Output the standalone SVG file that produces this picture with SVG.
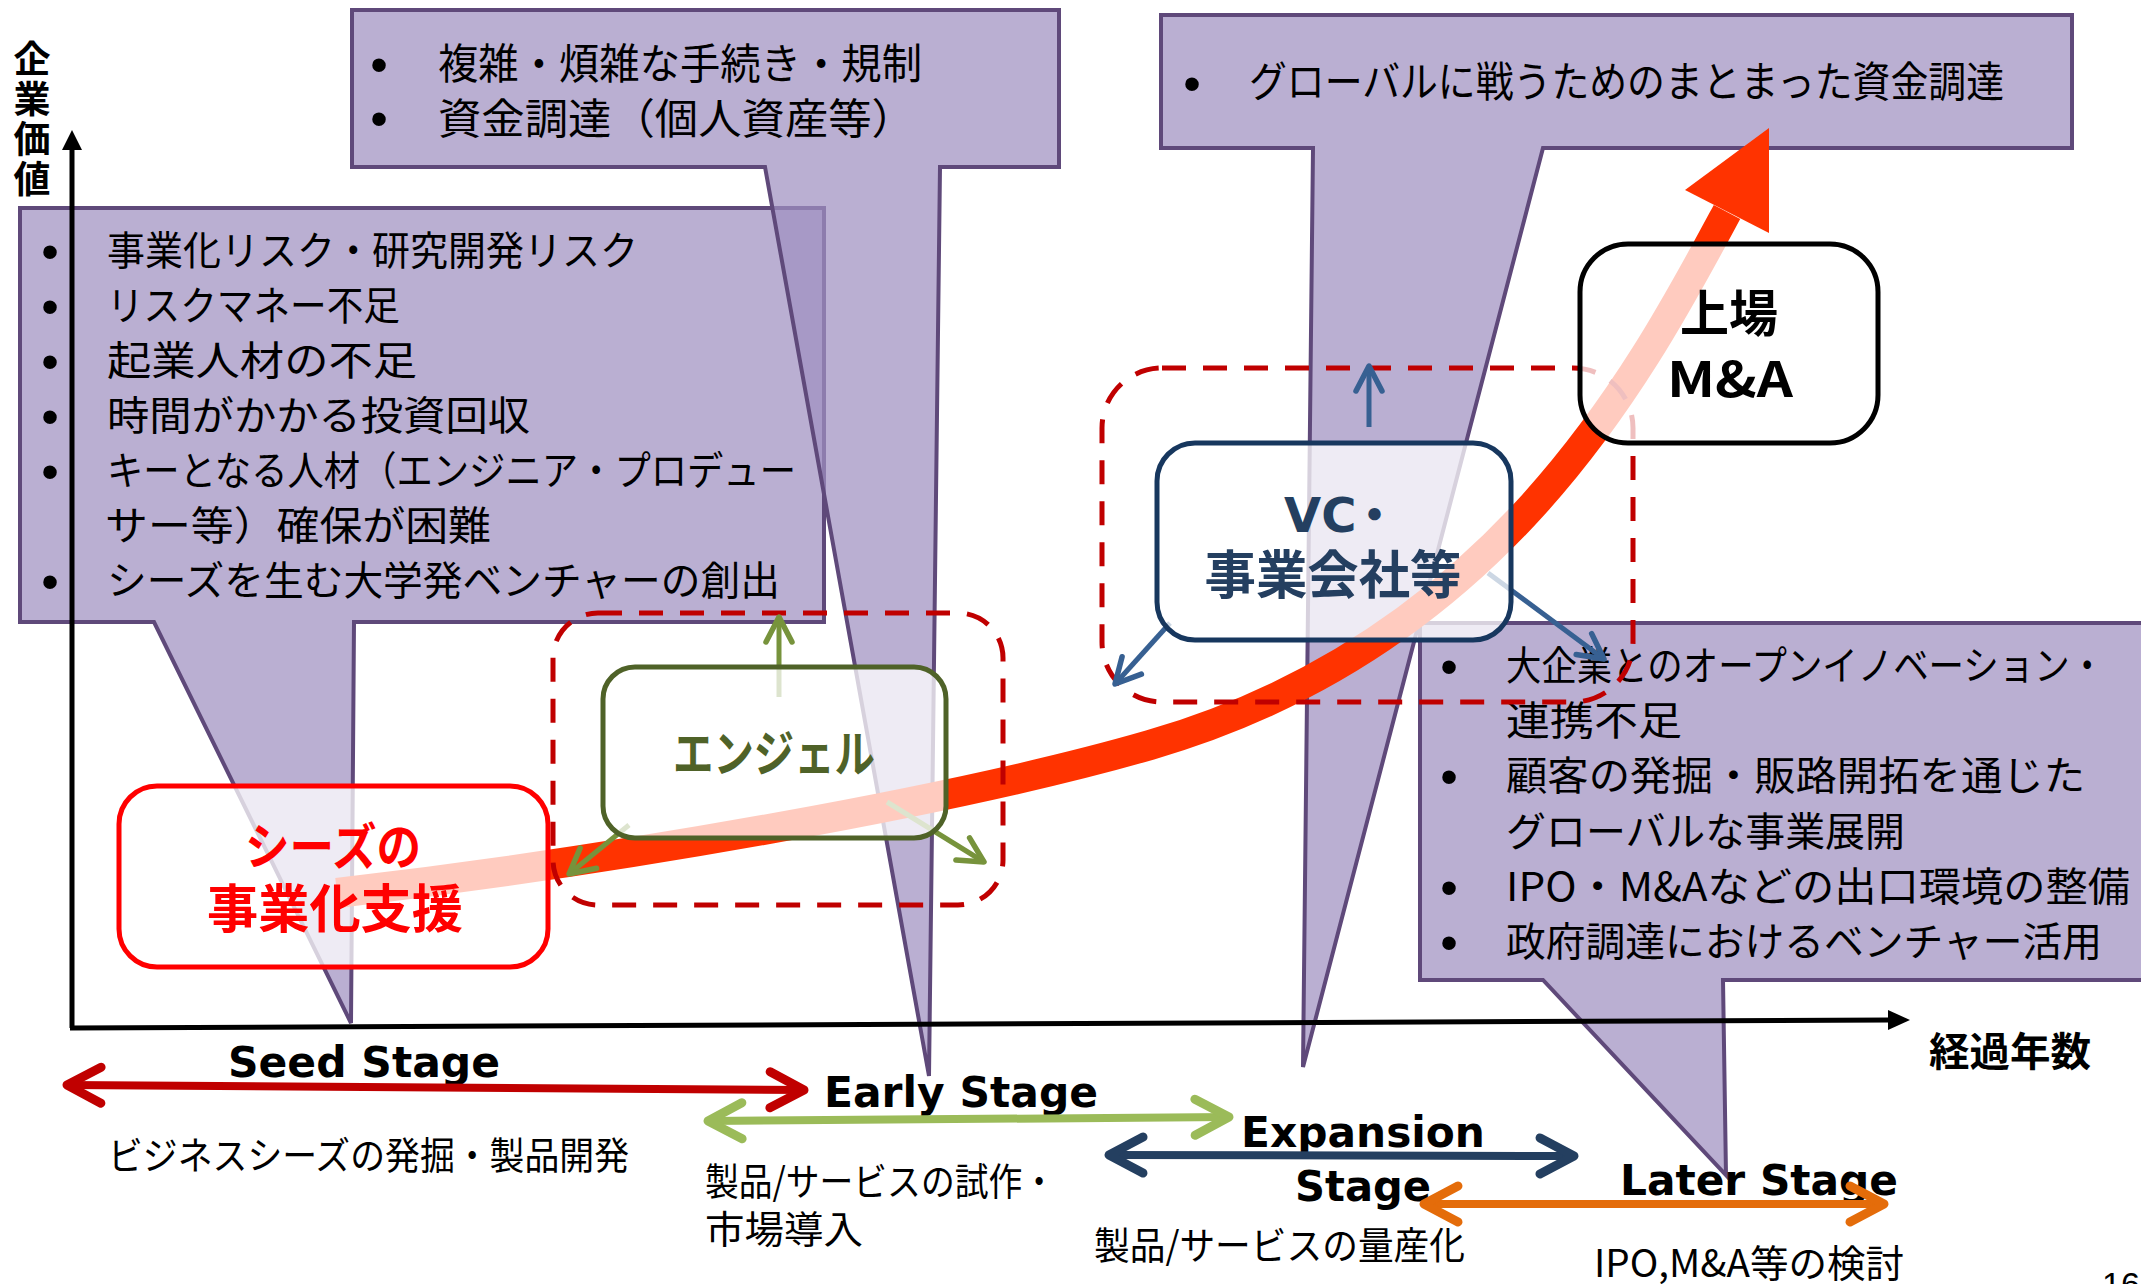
<svg xmlns="http://www.w3.org/2000/svg" width="2141" height="1284" viewBox="0 0 2141 1284">
<style>
.callout{fill:#a090c0;fill-opacity:0.72;stroke:#5f497a;stroke-width:4;stroke-linejoin:miter}
.ct{font-family:"Noto Sans CJK JP","Noto Sans CJK SC",sans-serif;font-size:40px;fill:#000}
.ct42{font-size:42px}
.bul{font-family:"Liberation Sans",Arial,sans-serif;font-size:50px;text-anchor:middle;fill:#000}
.box{fill:#fff;fill-opacity:0.75;stroke-width:5}
.bt{font-family:"Noto Sans CJK JP","Noto Sans CJK SC",sans-serif;font-weight:700;text-anchor:middle}
.stage{font-family:"DejaVu Sans",Verdana,sans-serif;font-weight:700;font-size:42px;fill:#000}
.desc{font-family:"Noto Sans CJK JP","Noto Sans CJK SC",sans-serif;font-size:38px;fill:#000}
.dash{fill:none;stroke:#c00000;stroke-width:5;stroke-dasharray:24 17}
.axis{stroke:#000;stroke-width:5;fill:none}
.sa{fill:none;stroke-width:8}
.ga{fill:none;stroke:#77933c;stroke-width:5}
.ba{fill:none;stroke:#376092;stroke-width:5}
</style>
<defs>
<marker id="chR" viewBox="-45 -30 55 60" markerWidth="55" markerHeight="60" refX="0" refY="0" orient="auto-start-reverse" markerUnits="userSpaceOnUse"><path d="M-34,-18 L0,0 L-34,18" fill="none" stroke="#c00000" stroke-width="9" stroke-linecap="round" stroke-linejoin="round"/></marker>
<marker id="chG" viewBox="-45 -30 55 60" markerWidth="55" markerHeight="60" refX="0" refY="0" orient="auto-start-reverse" markerUnits="userSpaceOnUse"><path d="M-34,-18 L0,0 L-34,18" fill="none" stroke="#9bbb59" stroke-width="9" stroke-linecap="round" stroke-linejoin="round"/></marker>
<marker id="chN" viewBox="-45 -30 55 60" markerWidth="55" markerHeight="60" refX="0" refY="0" orient="auto-start-reverse" markerUnits="userSpaceOnUse"><path d="M-34,-18 L0,0 L-34,18" fill="none" stroke="#243f60" stroke-width="9" stroke-linecap="round" stroke-linejoin="round"/></marker>
<marker id="chO" viewBox="-45 -30 55 60" markerWidth="55" markerHeight="60" refX="0" refY="0" orient="auto-start-reverse" markerUnits="userSpaceOnUse"><path d="M-34,-18 L0,0 L-34,18" fill="none" stroke="#e46c0a" stroke-width="9" stroke-linecap="round" stroke-linejoin="round"/></marker>
<marker id="smG" viewBox="-35 -20 40 40" markerWidth="40" markerHeight="40" refX="0" refY="0" orient="auto" markerUnits="userSpaceOnUse"><path d="M-25,-13 L0,0 L-25,13" fill="none" stroke="#77933c" stroke-width="5.5" stroke-linecap="round" stroke-linejoin="round"/></marker>
<marker id="smB" viewBox="-35 -20 40 40" markerWidth="40" markerHeight="40" refX="0" refY="0" orient="auto" markerUnits="userSpaceOnUse"><path d="M-25,-13 L0,0 L-25,13" fill="none" stroke="#376092" stroke-width="5.5" stroke-linecap="round" stroke-linejoin="round"/></marker>
</defs>
<rect width="2141" height="1284" fill="#fff"/>

<g id="callout-seed-issues">
<path class="callout" d="M20,208 L824,208 L824,622 L354,622 L351,1023 L154,622 L20,622 Z"/>
<text class="bul" x="50" y="269">•</text>
<text class="ct" x="107" y="265" textLength="531" lengthAdjust="spacingAndGlyphs">事業化リスク・研究開発リスク</text>
<text class="bul" x="50" y="324">•</text>
<text class="ct" x="107" y="320" textLength="293" lengthAdjust="spacingAndGlyphs">リスクマネー不足</text>
<text class="bul" x="50" y="379">•</text>
<text class="ct" x="107" y="375" textLength="310" lengthAdjust="spacingAndGlyphs">起業人材の不足</text>
<text class="bul" x="50" y="434">•</text>
<text class="ct" x="107" y="430" textLength="423" lengthAdjust="spacingAndGlyphs">時間がかかる投資回収</text>
<text class="bul" x="50" y="489">•</text>
<text class="ct" x="107" y="485" textLength="689" lengthAdjust="spacingAndGlyphs">キーとなる人材（エンジニア・プロデュー</text>
<text class="ct" x="105" y="540" textLength="386" lengthAdjust="spacingAndGlyphs">サー等）確保が困難</text>
<text class="bul" x="50" y="599">•</text>
<text class="ct" x="107" y="595" textLength="673" lengthAdjust="spacingAndGlyphs">シーズを生む大学発ベンチャーの創出</text>
</g>

<g id="callout-early-issues">
<path class="callout" d="M352,10 L1059,10 L1059,167 L940,167 L929,1076 L765,167 L352,167 Z"/>
<text class="bul" x="379" y="82">•</text>
<text class="ct ct42" x="438" y="79" textLength="484" lengthAdjust="spacingAndGlyphs">複雑・煩雑な手続き・規制</text>
<text class="bul" x="379" y="136">•</text>
<text class="ct ct42" x="438" y="134" textLength="477" lengthAdjust="spacingAndGlyphs">資金調達（個人資産等）</text>
</g>

<g id="callout-expansion-issues">
<path class="callout" d="M1161,15 L2072,15 L2072,148 L1543,148 L1303,1067 L1313,148 L1161,148 Z"/>
<text class="bul" x="1192" y="101">•</text>
<text class="ct ct42" x="1249" y="97" textLength="755" lengthAdjust="spacingAndGlyphs">グローバルに戦うためのまとまった資金調達</text>
</g>

<g id="callout-later-issues">
<path class="callout" d="M1420,623 L2160,623 L2160,980 L1723,980 L1726,1175 L1543,980 L1420,980 Z"/>
<text class="bul" x="1449" y="684">•</text>
<text class="ct" x="1506" y="680" textLength="599" lengthAdjust="spacingAndGlyphs">大企業とのオープンイノベーション・</text>
<text class="ct" x="1506" y="735" textLength="176" lengthAdjust="spacingAndGlyphs">連携不足</text>
<text class="bul" x="1449" y="794">•</text>
<text class="ct" x="1506" y="790" textLength="579" lengthAdjust="spacingAndGlyphs">顧客の発掘・販路開拓を通じた</text>
<text class="ct" x="1506" y="846" textLength="399" lengthAdjust="spacingAndGlyphs">グローバルな事業展開</text>
<text class="bul" x="1449" y="905">•</text>
<text class="ct" x="1506" y="901" textLength="624" lengthAdjust="spacingAndGlyphs">IPO・M&amp;Aなどの出口環境の整備</text>
<text class="bul" x="1449" y="960">•</text>
<text class="ct" x="1506" y="956" textLength="596" lengthAdjust="spacingAndGlyphs">政府調達におけるベンチャー活用</text>
</g>

<g id="axes">
<line class="axis" x1="72" y1="1028" x2="72" y2="146"/>
<polygon points="72,130 62,150 82,150" fill="#000"/>
<line class="axis" x1="70" y1="1028" x2="1890" y2="1020"/>
<polygon points="1910,1020 1888,1010 1888,1030" fill="#000"/>
<text x="32" y="40" writing-mode="vertical-rl" font-family="Noto Sans CJK JP, Noto Sans CJK SC, sans-serif" font-weight="700" font-size="37" letter-spacing="3" fill="#000">企業価値</text>
<text class="bt" x="2010" y="1066" font-size="40" textLength="162" lengthAdjust="spacingAndGlyphs">経過年数</text>
</g>

<g id="growth-curve">
<path d="M337,893 C620,860 960,800 1150,745 C1500,643.5 1642,370 1727,212" fill="none" stroke="#ff3300" stroke-width="30"/>
<polygon points="1769,128 1685,190 1769,233" fill="#ff3300"/>
</g>

<g id="groups">
<rect id="angel-group" class="dash" x="553" y="613" width="450" height="292" rx="45"/>
<rect id="vc-group" class="dash" x="1102" y="368" width="531" height="334" rx="60"/>
</g>

<g id="connectors">
<line class="ga" x1="779" y1="697" x2="779" y2="617" marker-end="url(#smG)"/>
<line class="ga" x1="629" y1="825" x2="569" y2="874" marker-end="url(#smG)"/>
<line class="ga" x1="887" y1="802" x2="984" y2="862" marker-end="url(#smG)"/>
<line class="ba" x1="1369" y1="427" x2="1369" y2="366" marker-end="url(#smB)"/>
<line class="ba" x1="1170" y1="623" x2="1115" y2="684" marker-end="url(#smB)"/>
<line class="ba" x1="1488" y1="573" x2="1604" y2="659" marker-end="url(#smB)"/>
</g>

<g id="node-seeds">
<rect class="box" x="119" y="786" width="429" height="181" rx="38" stroke="#ff0000"/>
<text class="bt" x="333" y="865" font-size="50" fill="#ff0000" textLength="176" lengthAdjust="spacingAndGlyphs">シーズの</text>
<text class="bt" x="335" y="928" font-size="52" fill="#ff0000" textLength="256" lengthAdjust="spacingAndGlyphs">事業化支援</text>
</g>

<g id="node-angel">
<rect class="box" x="603" y="667" width="343" height="171" rx="32" stroke="#4f6228"/>
<text class="bt" x="774" y="772" font-size="50" fill="#4f6228" textLength="202" lengthAdjust="spacingAndGlyphs">エンジェル</text>
</g>

<g id="node-vc">
<rect class="box" x="1157" y="443" width="354" height="197" rx="38" stroke="#17375e"/>
<text x="1284" y="532" fill="#243f60" font-family="DejaVu Sans, Verdana, sans-serif" font-weight="700" font-size="48">VC<tspan dx="-6" font-family="Noto Sans CJK JP, Noto Sans CJK SC, sans-serif" font-size="48">・</tspan></text>
<text class="bt" x="1333" y="594" font-size="52" fill="#243f60" textLength="257" lengthAdjust="spacingAndGlyphs">事業会社等</text>
</g>

<g id="node-ipo">
<rect class="box" x="1580" y="244" width="298" height="199" rx="48" stroke="#000"/>
<text class="bt" x="1729" y="332" font-size="50" fill="#000" textLength="98" lengthAdjust="spacingAndGlyphs">上場</text>
<text class="bt" x="1730" y="397" font-size="48" fill="#000" textLength="126" lengthAdjust="spacingAndGlyphs">M&amp;A</text>
</g>

<g id="stages">
<text class="stage" x="228" y="1077" textLength="272" lengthAdjust="spacingAndGlyphs">Seed Stage</text>
<line class="sa" x1="67" y1="1085" x2="804" y2="1090" stroke="#c00000" marker-start="url(#chR)" marker-end="url(#chR)"/>
<text class="desc" x="108" y="1169" textLength="521" lengthAdjust="spacingAndGlyphs">ビジネスシーズの発掘・製品開発</text>

<text class="stage" x="824" y="1107" textLength="274" lengthAdjust="spacingAndGlyphs">Early Stage</text>
<line class="sa" x1="708" y1="1121" x2="1229" y2="1117" stroke="#9bbb59" marker-start="url(#chG)" marker-end="url(#chG)"/>
<text class="desc" x="705" y="1195" textLength="351" lengthAdjust="spacingAndGlyphs">製品/サービスの試作・</text>
<text class="desc" x="705" y="1243" textLength="158" lengthAdjust="spacingAndGlyphs">市場導入</text>

<text class="stage" x="1241" y="1147" textLength="244" lengthAdjust="spacingAndGlyphs">Expansion</text>
<text class="stage" x="1295" y="1201" textLength="136" lengthAdjust="spacingAndGlyphs">Stage</text>
<line class="sa" x1="1109" y1="1155" x2="1574" y2="1156" stroke="#243f60" marker-start="url(#chN)" marker-end="url(#chN)"/>
<text class="desc" x="1094" y="1259" textLength="371" lengthAdjust="spacingAndGlyphs">製品/サービスの量産化</text>

<text class="stage" x="1620" y="1195" textLength="278" lengthAdjust="spacingAndGlyphs">Later Stage</text>
<line class="sa" x1="1424" y1="1204" x2="1884" y2="1204" stroke="#e46c0a" marker-start="url(#chO)" marker-end="url(#chO)"/>
<text class="desc" x="1594" y="1277" textLength="310" lengthAdjust="spacingAndGlyphs">IPO,M&amp;A等の検討</text>
</g>

<text x="2102" y="1296" font-family="Liberation Sans, Arial, sans-serif" font-size="34" fill="#000">16</text>
</svg>
